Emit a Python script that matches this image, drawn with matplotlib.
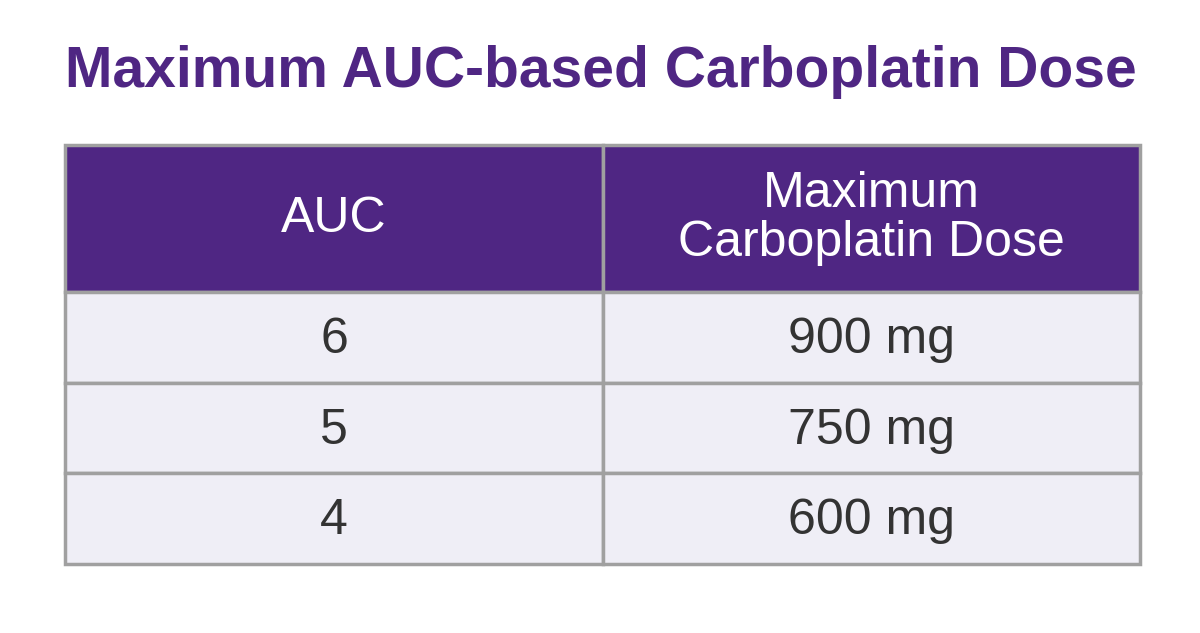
import matplotlib.pyplot as plt
from matplotlib.patches import Rectangle

TITLE = "Maximum AUC-based Carboplatin Dose"
HEADERS = ["AUC", "Maximum\nCarboplatin Dose"]
AUC_VALUES = ["6", "5", "4"]
MAX_DOSE = ["900 mg", "750 mg", "600 mg"]

PURPLE = "#4F2683"
ROW_BG = "#EFEEF6"
GRID = "#A0A0A0"
TEXT = "#333333"

fig = plt.figure(figsize=(12, 6.33), dpi=100)
ax = fig.add_axes([0, 0, 1, 1])
ax.set_xlim(0, 1200)
ax.set_ylim(633, 0)
ax.axis("off")

ax.text(65, 72, TITLE, fontsize=41, fontweight="bold", color=PURPLE,
        ha="left", va="center", family="Liberation Sans")

col_x = [65, 603, 1140]
header_top, header_bot = 145, 292
row_h = 90.5

# header
for i, label in enumerate(HEADERS):
    x0, x1 = col_x[i], col_x[i + 1]
    ax.add_patch(Rectangle((x0, header_top), x1 - x0, header_bot - header_top,
                           facecolor=PURPLE, edgecolor=GRID, lw=2.5))
    ax.text((x0 + x1) / 2, (header_top + header_bot) / 2, label, fontsize=36,
            color="white", ha="center", va="center", linespacing=1.1,
            family="Liberation Sans")

# body rows
for r, row in enumerate(zip(AUC_VALUES, MAX_DOSE)):
    y0 = header_bot + r * row_h
    for i, val in enumerate(row):
        x0, x1 = col_x[i], col_x[i + 1]
        ax.add_patch(Rectangle((x0, y0), x1 - x0, row_h,
                               facecolor=ROW_BG, edgecolor=GRID, lw=2.5))
        ax.text((x0 + x1) / 2, y0 + row_h / 2 + 3, val, fontsize=36,
                color=TEXT, ha="center", va="center", family="Liberation Sans")

fig.savefig("out.png", dpi=100, facecolor="white")
